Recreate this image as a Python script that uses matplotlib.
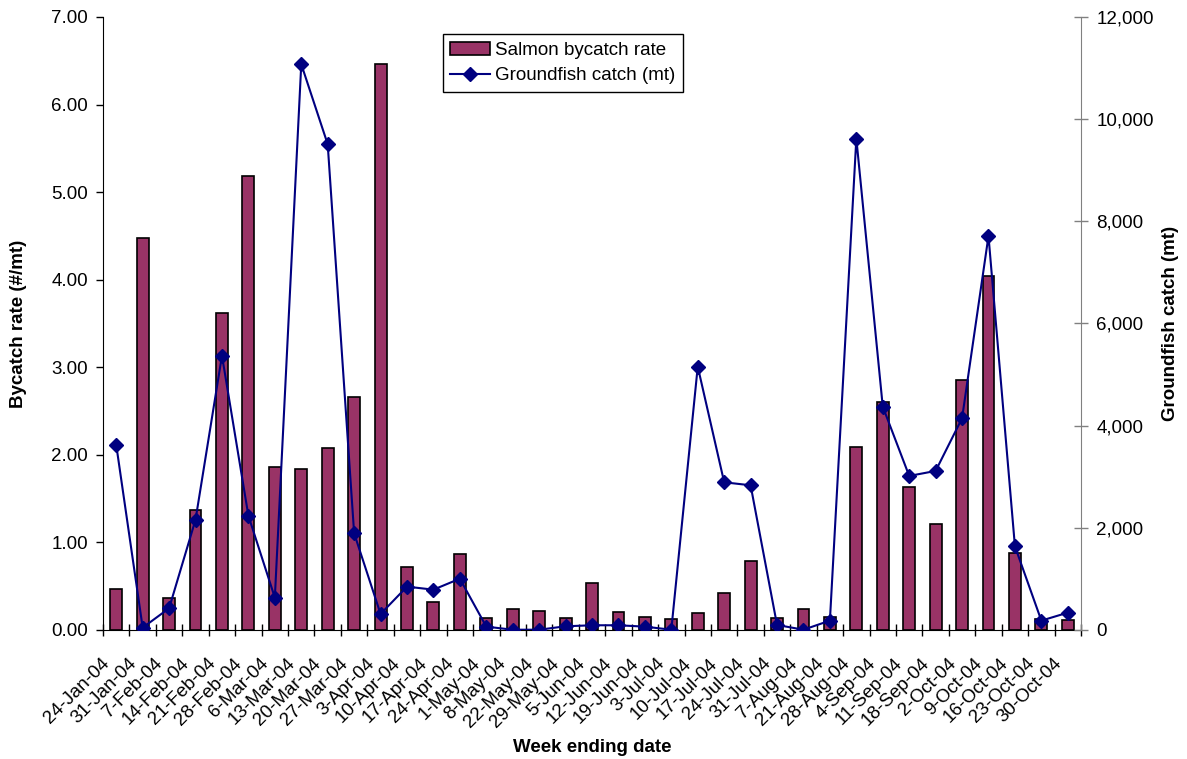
import numpy as np
import matplotlib.pyplot as plt
from matplotlib.ticker import FuncFormatter
from matplotlib.patches import Patch
from matplotlib.lines import Line2D
from matplotlib.transforms import ScaledTranslation

plt.rcParams['font.family'] = ['Liberation Sans', 'DejaVu Sans']

# weekly observer data
weeks = ["24-Jan-04", "31-Jan-04", "7-Feb-04", "14-Feb-04", "21-Feb-04", "28-Feb-04",
         "6-Mar-04", "13-Mar-04", "20-Mar-04", "27-Mar-04", "3-Apr-04", "10-Apr-04",
         "17-Apr-04", "24-Apr-04", "1-May-04", "8-May-04", "22-May-04", "29-May-04",
         "5-Jun-04", "12-Jun-04", "19-Jun-04", "3-Jul-04", "10-Jul-04", "17-Jul-04",
         "24-Jul-04", "31-Jul-04", "7-Aug-04", "21-Aug-04", "28-Aug-04", "4-Sep-04",
         "11-Sep-04", "18-Sep-04", "2-Oct-04", "9-Oct-04", "16-Oct-04", "23-Oct-04",
         "30-Oct-04"]

bycatch_rate = [0.47, 4.48, 0.37, 1.37, 3.62, 5.18, 1.86, 1.84, 2.08, 2.66, 6.46, 0.72,
                0.32, 0.87, 0.14, 0.24, 0.22, 0.14, 0.54, 0.20, 0.15, 0.13, 0.19, 0.42,
                0.79, 0.14, 0.24, 0.15, 2.09, 2.60, 1.63, 1.21, 2.85, 4.04, 0.88, 0.12,
                0.11]

groundfish = [3620, 45, 425, 2160, 5370, 2235, 633, 11075, 9508, 1893, 313, 848,
              789, 1004, 65, 5, 5, 72, 92, 92, 65, 5, 5155, 2891,
              2832, 98, 5, 183, 9620, 4372, 3015, 3113, 4144, 7713, 1638, 183,
              339]

x = np.arange(len(weeks))
fs = 13.5

fig = plt.figure(figsize=(11.87, 7.59), dpi=100)
ax = fig.add_axes([0.0868, 0.170, 0.8239, 0.8077])

ax.bar(x, bycatch_rate, width=0.45, color='#993366', edgecolor='black', linewidth=1.2, zorder=2)
ax.set_xlim(-0.5, len(weeks) - 0.5)
ax.set_ylim(0, 7)
ax.set_yticks(np.arange(0, 7.01, 1))
ax.yaxis.set_major_formatter(FuncFormatter(lambda v, p: f"{v:.2f}"))
ax.tick_params(axis='y', direction='out', length=5, labelsize=fs, width=1, pad=6)

# category labels at the centres, tick marks on the boundaries
ax.set_xticks(x)
ax.set_xticklabels(weeks, rotation=45, ha='right', va='top', fontsize=fs)
ax.tick_params(axis='x', which='major', length=0, pad=18)
ax.set_xticks(np.arange(-0.5, len(weeks) + 0.5, 1), minor=True)
ax.tick_params(axis='x', which='minor', direction='inout', length=8, width=1)
offset = ScaledTranslation(-0.03, 0, fig.dpi_scale_trans)
for lab in ax.get_xticklabels():
    lab.set_transform(lab.get_transform() + offset)

ax.spines['top'].set_visible(False)
ax.spines['right'].set_visible(False)

ax.set_xlabel("Week ending date", fontsize=fs, fontweight='bold', labelpad=6)
ax.set_ylabel("Bycatch rate (#/mt)", fontsize=fs, fontweight='bold')
ax.yaxis.set_label_coords(-0.078, 0.5)

# groundfish catch on the secondary axis
ax2 = ax.twinx()
ax2.plot(x, groundfish, color='#000080', linewidth=1.5, marker='D', markersize=7, zorder=3)
ax2.set_ylim(0, 12000)
ax2.set_yticks(np.arange(0, 12001, 2000))
ax2.yaxis.set_major_formatter(FuncFormatter(lambda v, p: f"{int(v):,}"))
ax2.tick_params(axis='y', direction='inout', length=10, labelsize=fs, color='#808080',
                width=1, pad=6)
for side in ['top', 'left', 'bottom']:
    ax2.spines[side].set_visible(False)
ax2.spines['right'].set_color('#808080')
ax2.set_ylabel("Groundfish catch (mt)", fontsize=fs, fontweight='bold', rotation=90)
ax2.yaxis.set_label_coords(1.083, 0.5)

handles = [Patch(facecolor='#993366', edgecolor='black', linewidth=1.2),
           Line2D([], [], color='#000080', linewidth=1.5, marker='D', markersize=7)]
leg = fig.legend(handles, ["Salmon bycatch rate", "Groundfish catch (mt)"],
                 loc='upper left', bbox_to_anchor=(0.373, 0.955), fontsize=fs,
                 fancybox=False, framealpha=1, edgecolor='black',
                 borderpad=0.4, labelspacing=0.45, handlelength=2.1, handletextpad=0.3,
                 borderaxespad=0)
leg.get_frame().set_linewidth(1)

fig.savefig("out.png", dpi=100)
